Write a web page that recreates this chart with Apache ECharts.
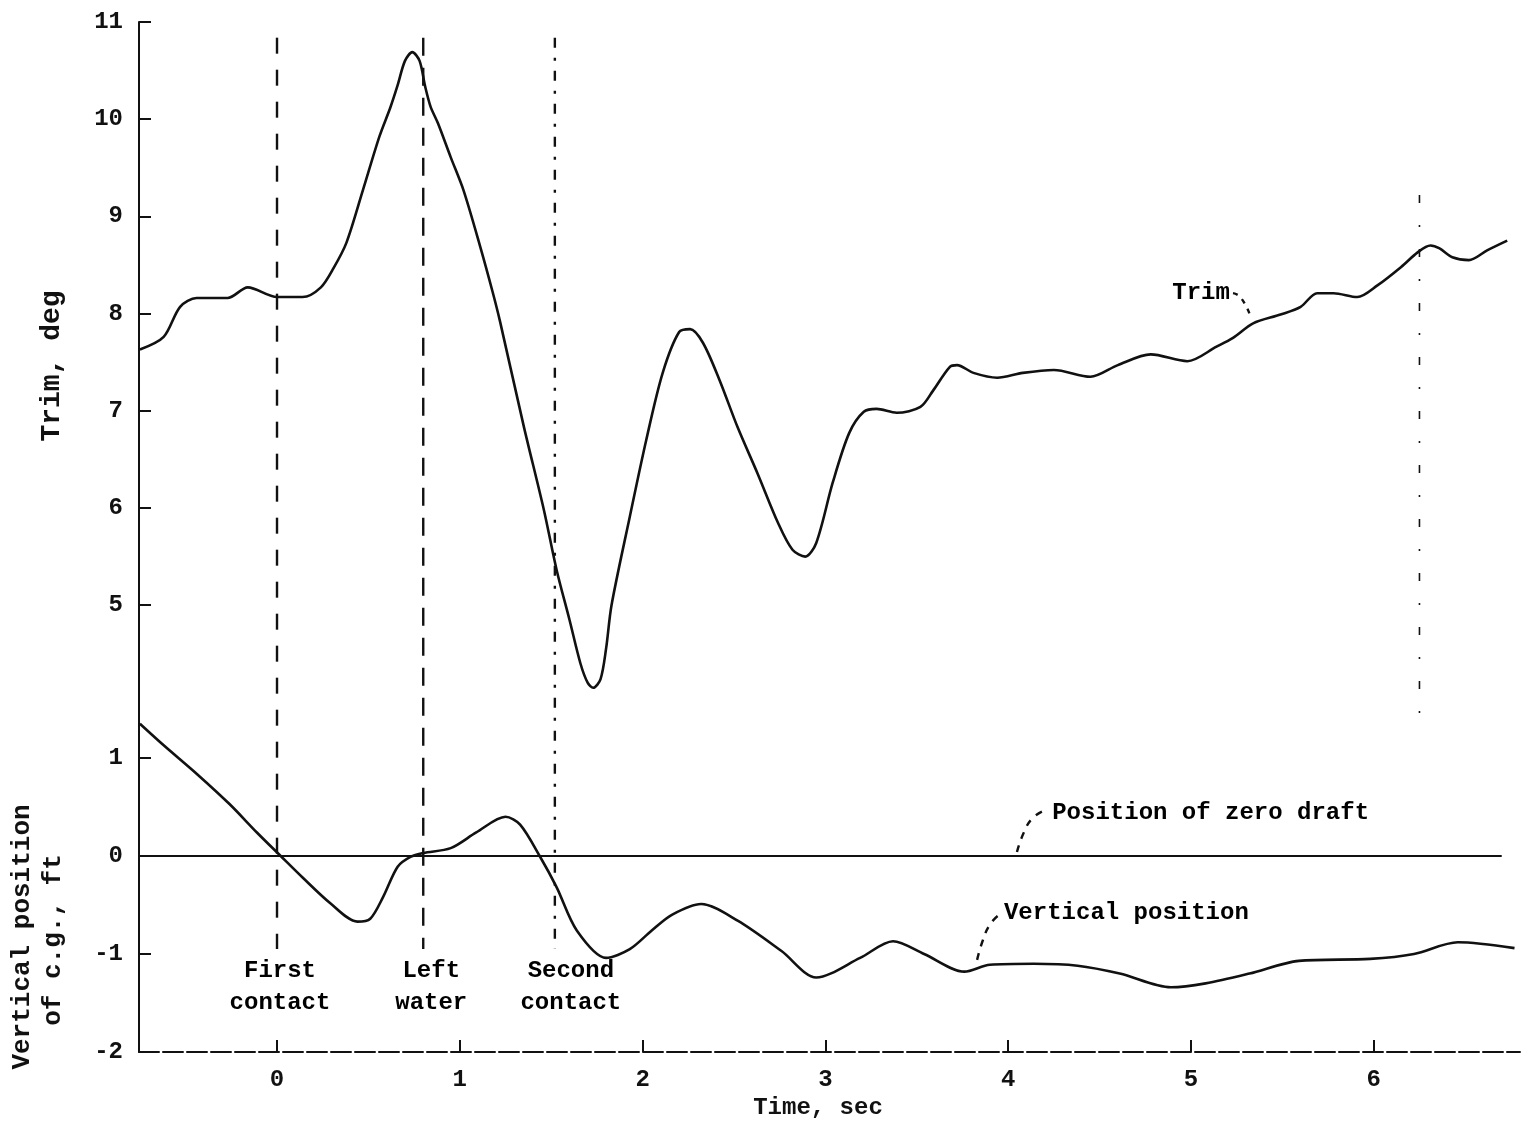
<!DOCTYPE html>
<html>
<head>
<meta charset="utf-8">
<script src="https://cdn.jsdelivr.net/npm/echarts@6/dist/echarts.min.js"></script>
<style>
  html, body { margin: 0; background: #fff; }
  #chart { width: 1524px; height: 1122px; }
</style>
</head>
<body>
<div id="chart"></div>
<script>
  // tick labels
  const timeTicks = [0, 1, 2, 3, 4, 5, 6]
  const trimTicks = [5, 6, 7, 8, 9, 10, 11]
  const vertTicks = [-2, -1, 0, 1]

  // trim, deg
  const trimTime = [-0.75, -0.62, -0.53, -0.44, -0.27, -0.16, 0.0, 0.14, 0.24, 0.31, 0.38, 0.47, 0.56, 0.62, 0.66, 0.70, 0.74, 0.78, 0.81, 0.84,
    0.88, 0.95, 1.02, 1.11, 1.18, 1.22, 1.35, 1.46, 1.53, 1.60, 1.66, 1.70, 1.73, 1.77, 1.80, 1.83, 1.93, 2.02, 2.11, 2.20,
    2.26, 2.33, 2.42, 2.52, 2.63, 2.74, 2.82, 2.89, 2.95, 3.04, 3.13, 3.21, 3.28, 3.39, 3.52, 3.59, 3.68, 3.72, 3.81, 3.94,
    4.08, 4.25, 4.45, 4.60, 4.78, 4.98, 5.14, 5.23, 5.34, 5.49, 5.60, 5.69, 5.78, 5.91, 6.02, 6.15, 6.24, 6.31, 6.36, 6.43,
    6.52, 6.62, 6.73]
  const trimDeg = [7.63, 7.76, 8.07, 8.16, 8.16, 8.27, 8.17, 8.17, 8.27, 8.47, 8.73, 9.27, 9.82, 10.12, 10.35, 10.60, 10.69, 10.60, 10.34, 10.13,
    9.96, 9.61, 9.27, 8.70, 8.22, 7.92, 6.84, 5.98, 5.36, 4.85, 4.40, 4.20, 4.15, 4.24, 4.55, 5.00, 5.91, 6.70, 7.39, 7.81,
    7.84, 7.70, 7.32, 6.83, 6.35, 5.85, 5.57, 5.50, 5.64, 6.26, 6.77, 6.99, 7.02, 6.98, 7.04, 7.21, 7.45, 7.47, 7.39, 7.34,
    7.39, 7.42, 7.35, 7.47, 7.58, 7.51, 7.66, 7.75, 7.90, 7.99, 8.07, 8.21, 8.21, 8.17, 8.29, 8.48, 8.63, 8.70, 8.67, 8.58,
    8.55, 8.65, 8.75]

  // vertical position of c.g., ft
  const vertTime = [-0.75, -0.62, -0.44, -0.26, -0.11, 0.02, 0.14, 0.29, 0.44, 0.51, 0.58, 0.66, 0.73, 0.80, 0.95, 1.09, 1.25, 1.33, 1.44, 1.53,
    1.64, 1.80, 1.93, 2.05, 2.16, 2.32, 2.52, 2.76, 2.95, 3.19, 3.37, 3.54, 3.76, 3.90, 4.14, 4.38, 4.61, 4.89, 5.08, 5.32,
    5.59, 5.98, 6.22, 6.46, 6.77]
  const vertFt = [1.35, 1.13, 0.84, 0.53, 0.24, 0.0, -0.22, -0.48, -0.67, -0.64, -0.42, -0.11, -0.01, 0.03, 0.08, 0.24, 0.40, 0.32, -0.01, -0.32,
    -0.76, -1.04, -0.95, -0.76, -0.60, -0.49, -0.66, -0.97, -1.24, -1.04, -0.87, -1.00, -1.18, -1.11, -1.10, -1.12, -1.20, -1.34, -1.30, -1.20,
    -1.07, -1.05, -1.00, -0.88, -0.94]

  // position of zero draft
  const zeroTime = [-0.755, 6.70]
  const zeroFt = [0, 0]

  // events
  const eventTime = [0, 0.8, 1.52]
  const eventNames = ['First\ncontact', 'Left\nwater', 'Second\ncontact']
  const eventSpan = [8.35, -0.95]

  // annotation leaders
  const trimLeaderT = [5.23, 5.27, 5.32]
  const trimLeaderV = [8.21, 8.17, 8.0]
  const zeroLeaderT = [4.048, 4.087, 4.136, 4.207]
  const zeroLeaderV = [0.04, 0.245, 0.39, 0.47]
  const vertLeaderT = [3.83, 3.862, 3.90, 3.944]
  const vertLeaderV = [-1.06, -0.857, -0.70, -0.61]

  const font = '"Liberation Mono", "DejaVu Sans Mono", monospace'
  const ink = '#111'
  const pairs = (xs, ys) => xs.map((x, i) => [x, ys[i]])

  const tickLabel = {
    fontFamily: font,
    fontSize: 24,
    fontWeight: 'bold',
    color: ink,
    margin: 16
  }
  const noteText = {
    show: true,
    fontFamily: font,
    fontSize: 24,
    fontWeight: 'bold',
    color: '#000',
    opacity: 1
  }

  const dashes = [[16, 16], [18, 12], [10, 10, 3, 10]]

  const option = {
    animation: false,
    backgroundColor: '#fff',
    grid: {
      left: 139,
      right: 4,
      top: 22,
      bottom: 70,
      containLabel: false,
      outerBoundsMode: 'none'
    },
    xAxis: {
      type: 'value',
      min: -0.755,
      max: 6.80,
      axisLine: { show: true, onZero: false, lineStyle: { color: ink, width: 2, type: [20, 4] } },
      axisTick: { show: true, inside: true, length: 12, customValues: timeTicks, lineStyle: { color: ink, width: 2 } },
      axisLabel: Object.assign({ customValues: timeTicks }, tickLabel),
      splitLine: { show: false }
    },
    yAxis: [
      {
        type: 'value',
        min: 0.403,
        max: 11,
        position: 'left',
        axisLine: { show: true, onZero: false, lineStyle: { color: ink, width: 2 } },
        axisTick: { show: true, inside: true, length: 12, customValues: trimTicks, lineStyle: { color: ink, width: 2 } },
        axisLabel: Object.assign({ customValues: trimTicks }, tickLabel),
        splitLine: { show: false }
      },
      {
        type: 'value',
        min: -2,
        max: 8.51,
        position: 'left',
        axisLine: { show: false, onZero: false },
        axisTick: { show: true, inside: true, length: 12, customValues: vertTicks, lineStyle: { color: ink, width: 2 } },
        axisLabel: Object.assign({ customValues: vertTicks }, tickLabel),
        splitLine: { show: false }
      }
    ],
    graphic: [
      { type: 'text', x: 52, y: 366, rotation: Math.PI / 2,
        style: { text: 'Trim, deg', font: 'bold 28px ' + font, fill: ink, align: 'center', verticalAlign: 'middle' } },
      { type: 'text', x: 22, y: 937, rotation: Math.PI / 2,
        style: { text: 'Vertical position', font: 'bold 26px ' + font, fill: ink, align: 'center', verticalAlign: 'middle' } },
      { type: 'text', x: 53, y: 940, rotation: Math.PI / 2,
        style: { text: 'of c.g., ft', font: 'bold 26px ' + font, fill: ink, align: 'center', verticalAlign: 'middle' } },
      { type: 'text', x: 818, y: 1108,
        style: { text: 'Time, sec', font: 'bold 24px ' + font, fill: ink, align: 'center', verticalAlign: 'middle' } }
    ],
    series: [
      {
        name: 'Trim',
        type: 'line',
        yAxisIndex: 0,
        data: pairs(trimTime, trimDeg),
        smooth: 0.3,
        showSymbol: false,
        lineStyle: { color: ink, width: 2.6 }
      },
      {
        name: 'Vertical position',
        type: 'line',
        yAxisIndex: 1,
        data: pairs(vertTime, vertFt),
        smooth: 0.3,
        showSymbol: false,
        lineStyle: { color: ink, width: 2.6 }
      },
      {
        name: 'Position of zero draft',
        type: 'line',
        yAxisIndex: 1,
        data: pairs(zeroTime, zeroFt),
        showSymbol: false,
        lineStyle: { color: ink, width: 2.2 }
      },
      ...eventTime.map((t, i) => ({
        type: 'line',
        yAxisIndex: 1,
        data: eventSpan.map(v => [t, v]),
        showSymbol: false,
        lineStyle: { color: ink, width: 2.4, type: dashes[i] }
      })),
      {
        type: 'scatter',
        yAxisIndex: 1,
        symbolSize: 0,
        itemStyle: { color: '#000' },
        data: eventTime.map((t, i) => ({
          value: [t, eventSpan[1]],
          label: { offset: [[3, 0], [8, 0], [16, 0]][i] }
        })),
        label: Object.assign({}, noteText, {
          position: 'bottom',
          distance: 6,
          formatter: p => eventNames[p.dataIndex],
          lineHeight: 32,
          align: 'center'
        })
      },
      {
        // stray dash-dot line at right
        type: 'line',
        yAxisIndex: 0,
        data: [[6.25, 9.22], [6.25, 3.82]],
        showSymbol: false,
        lineStyle: { color: ink, width: 1.6, type: [8, 22, 2, 22] }
      },
      {
        type: 'line',
        yAxisIndex: 0,
        data: pairs(trimLeaderT, trimLeaderV),
        smooth: true,
        showSymbol: false,
        lineStyle: { color: ink, width: 2.4, type: [5, 6] }
      },
      {
        type: 'line',
        yAxisIndex: 1,
        data: pairs(zeroLeaderT, zeroLeaderV),
        smooth: true,
        showSymbol: false,
        lineStyle: { color: ink, width: 2.4, type: [7, 7] }
      },
      {
        type: 'line',
        yAxisIndex: 1,
        data: pairs(vertLeaderT, vertLeaderV),
        smooth: true,
        showSymbol: false,
        lineStyle: { color: ink, width: 2.4, type: [7, 7] }
      },
      {
        type: 'scatter',
        yAxisIndex: 0,
        symbolSize: 0,
        itemStyle: { color: '#000' },
        data: [[5.224, 8.21]],
        label: Object.assign({}, noteText, { position: 'left', distance: 2, formatter: 'Trim' })
      },
      {
        type: 'scatter',
        yAxisIndex: 1,
        symbolSize: 0,
        itemStyle: { color: '#000' },
        data: [
          { value: [4.23, 0.44], name: 'Position of zero draft' },
          { value: [3.966, -0.58], name: 'Vertical position' }
        ],
        label: Object.assign({}, noteText, { position: 'right', distance: 2, formatter: '{b}' })
      }
    ]
  }

  const chart = echarts.init(document.getElementById('chart'))
  chart.setOption(option)
  window.addEventListener('resize', () => chart.resize())
</script>
</body>
</html>
